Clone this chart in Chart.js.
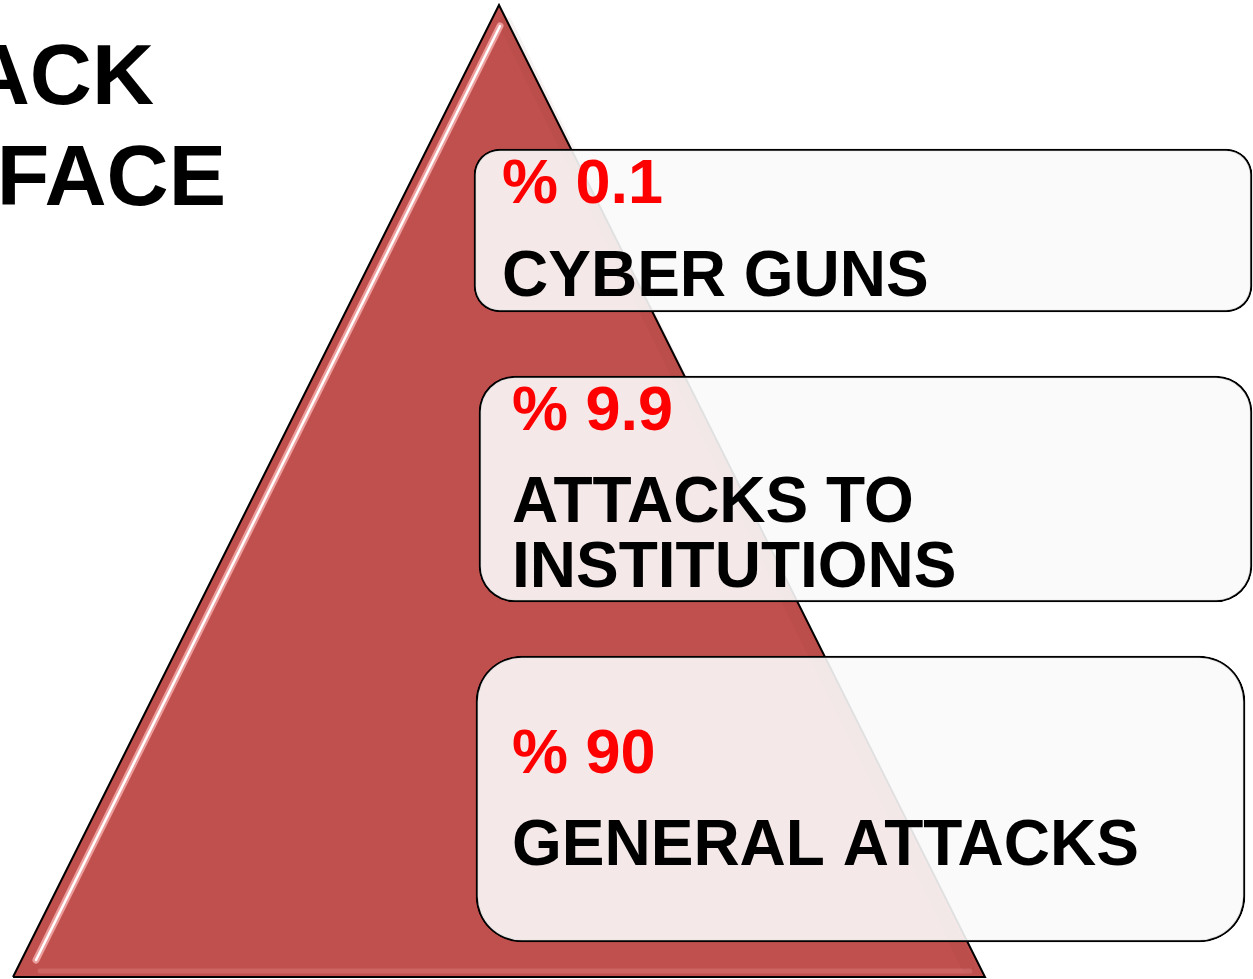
<!DOCTYPE html>
<html><head><meta charset="utf-8">
<script src="https://cdn.jsdelivr.net/npm/chart.js@4/dist/chart.umd.min.js"></script>
<style>html,body{margin:0;padding:0;background:#fff;overflow:hidden}#wrap{width:1253px;height:979px;position:relative}</style>
</head><body><div id="wrap"><canvas id="c"></canvas></div>
<script>
// ---- data ----
const titleLines = ["ATTACK", "SURFACE"];
const categories = ["CYBER GUNS", "ATTACKS TO INSTITUTIONS", "GENERAL ATTACKS"];
const labelLines = [["CYBER GUNS"], ["ATTACKS TO", "INSTITUTIONS"], ["GENERAL ATTACKS"]];
const shares = [0.1, 9.9, 90];
const shareLabels = shares.map(v => "% " + v);

// ---- layout (pixel-like units on hidden linear scales) ----
const W = 1253, H = 979;
const tri = { apex: {x: 499, y: 5}, bl: {x: 13, y: 977}, br: {x: 985, y: 977} };
const boxes = [
  {l: 474, r: 1252, t: 149, b: 312, tx: 502, pctY: 203, lineY: [296]},
  {l: 479, r: 1252, t: 376, b: 602, tx: 512, pctY: 430, lineY: [522, 587]},
  {l: 476, r: 1245, t: 656, b: 942, tx: 512, pctY: 773, lineY: [865]}
];
const FONT = '"Liberation Sans", Arial, Helvetica, sans-serif';

const boxDatasets = categories.map((cat, i) => {
  const b = boxes[i];
  return {
    type: 'bar', label: cat, indexAxis: 'y', stack: 'boxes',
    data: [{x: [b.l, b.r], y: (b.t + b.b) / 2}],
    barThickness: b.b - b.t,
    backgroundColor: 'rgba(250,250,250,0.9)',
    borderColor: '#000', borderWidth: 2, borderSkipped: false,
    borderRadius: Math.round((b.b - b.t) * 0.16),
    order: 0
  };
});

const lineDs = (pts, color, width, order, extra) => Object.assign({
  type: 'line', indexAxis: 'x', data: pts, borderColor: color, borderWidth: width,
  pointRadius: 0, fill: false, tension: 0, order: order, clip: false,
  borderCapStyle: 'round'
}, extra || {});

const datasets = [
  ...boxDatasets,
  lineDs([{x: 500, y: 26}, {x: 36, y: 960}], '#ffffff', 2.5, 6),
  lineDs([{x: 500, y: 26}, {x: 36, y: 960}], 'rgba(255,190,190,0.7)', 7, 7),
  lineDs([{x: 40, y: 971}, {x: 970, y: 971}], 'rgba(225,140,140,0.35)', 5, 7),
  lineDs([{x: 506, y: 24}, {x: 968, y: 966}], 'rgba(120,30,30,0.06)', 14, 8),
  lineDs([tri.bl, tri.apex, tri.br, tri.bl], '#000', 2, 10,
    {fill: 'shape', backgroundColor: '#C0504D', borderJoinStyle: 'miter', borderCapStyle: 'butt'})
];

const textPlugin = {
  id: 'texts',
  afterDatasetsDraw(chart) {
    const ctx = chart.ctx;
    const xs = chart.scales.x, ys = chart.scales.y;
    ctx.save();
    ctx.textBaseline = 'alphabetic';
    // title (clipped at left edge)
    ctx.fillStyle = '#000';
    ctx.font = 'bold 86px ' + FONT;
    ctx.textAlign = 'right';
    ctx.fillText(titleLines[0], xs.getPixelForValue(154), ys.getPixelForValue(104));
    ctx.fillText(titleLines[1], xs.getPixelForValue(226), ys.getPixelForValue(205));
    // box texts
    ctx.textAlign = 'left';
    boxes.forEach((b, i) => {
      ctx.font = 'bold 63px ' + FONT;
      ctx.fillStyle = '#FF0000';
      ctx.fillText(shareLabels[i], xs.getPixelForValue(b.tx), ys.getPixelForValue(b.pctY));
      ctx.font = 'bold 64px ' + FONT;
      ctx.fillStyle = '#000';
      labelLines[i].forEach((ln, j) => {
        ctx.fillText(ln, xs.getPixelForValue(b.tx), ys.getPixelForValue(b.lineY[j]));
      });
    });
    ctx.restore();
  }
};

new Chart(document.getElementById('c'), {
  type: 'bar',
  data: { datasets },
  options: {
    indexAxis: 'y',
    responsive: true, maintainAspectRatio: false,
    animation: false, events: [],
    layout: { padding: 0 },
    scales: {
      x: { type: 'linear', min: 0, max: W, display: false, offset: false, stacked: false },
      y: { type: 'linear', min: 0, max: H, reverse: true, display: false, offset: false }
    },
    plugins: { legend: { display: false }, tooltip: { enabled: false } }
  },
  plugins: [textPlugin]
});
</script>
</body></html>
